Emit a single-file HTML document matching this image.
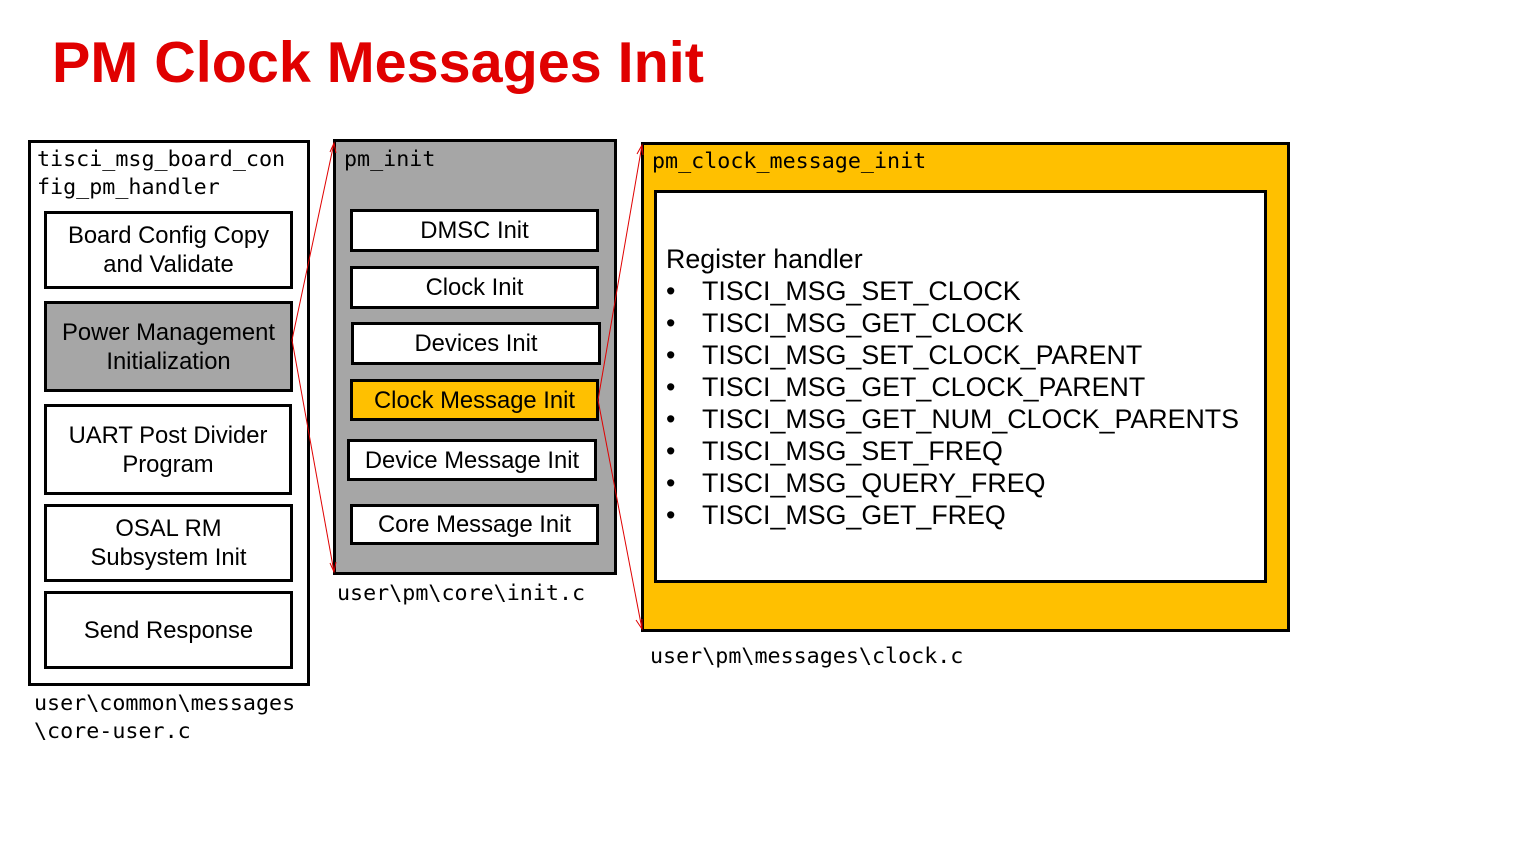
<!DOCTYPE html>
<html><head><style>
body{margin:0;width:1536px;height:864px;background:#fff;position:relative;overflow:hidden;font-family:"Liberation Sans",sans-serif}
.a{position:absolute;box-sizing:border-box}
.b{border:3px solid #000;background:#fff;display:flex;align-items:center;justify-content:center;text-align:center;font-size:23.8px;line-height:29px;color:#000;white-space:nowrap}
.m{position:absolute;font-family:"DejaVu Sans Mono","Liberation Mono",monospace;font-size:21.7px;line-height:28px;color:#000}
</style></head><body>
<div class="a" style="left:52px;top:30px;font-size:57.5px;font-weight:bold;color:#e00000">PM Clock Messages Init</div>

<div class="a" style="left:28px;top:140px;width:282px;height:546px;border:3px solid #000"></div>
<div class="m" style="left:37px;top:146px">tisci_msg_board_con<br>fig_pm_handler</div>
<div class="a b" style="left:44px;top:211px;width:249px;height:78px">Board Config Copy<br>and Validate</div>
<div class="a b" style="left:44px;top:301px;width:249px;height:91px;background:#a6a6a6">Power Management<br>Initialization</div>
<div class="a b" style="left:44px;top:404px;width:248px;height:91px">UART Post Divider<br>Program</div>
<div class="a b" style="left:44px;top:504px;width:249px;height:78px">OSAL RM<br>Subsystem Init</div>
<div class="a b" style="left:44px;top:591px;width:249px;height:78px">Send Response</div>
<div class="m" style="left:34px;top:690px">user\common\messages<br>\core-user.c</div>

<div class="a" style="left:333px;top:139px;width:284px;height:436px;border:3px solid #000;background:#a6a6a6"></div>
<div class="m" style="left:344px;top:146px">pm_init</div>
<div class="a b" style="left:350px;top:209px;width:249px;height:43px">DMSC Init</div>
<div class="a b" style="left:350px;top:266px;width:249px;height:43px">Clock Init</div>
<div class="a b" style="left:351px;top:322px;width:250px;height:43px">Devices Init</div>
<div class="a b" style="left:350px;top:379px;width:249px;height:42px;background:#ffc000">Clock Message Init</div>
<div class="a b" style="left:347px;top:439px;width:250px;height:42px">Device Message Init</div>
<div class="a b" style="left:350px;top:504px;width:249px;height:41px">Core Message Init</div>
<div class="m" style="left:337px;top:580px">user\pm\core\init.c</div>

<div class="a" style="left:641px;top:142px;width:649px;height:490px;border:3px solid #000;background:#ffc000"></div>
<div class="m" style="left:652px;top:148px">pm_clock_message_init</div>
<div class="a" style="left:654px;top:190px;width:613px;height:393px;border:3px solid #000;background:#fff"></div>
<div class="a" style="left:666px;top:243px;font-size:26.8px;line-height:32px;color:#000;white-space:nowrap">Register handler
<div style="position:relative">
<div><span style="display:inline-block;width:36px">•</span>TISCI_MSG_SET_CLOCK</div>
<div><span style="display:inline-block;width:36px">•</span>TISCI_MSG_GET_CLOCK</div>
<div><span style="display:inline-block;width:36px">•</span>TISCI_MSG_SET_CLOCK_PARENT</div>
<div><span style="display:inline-block;width:36px">•</span>TISCI_MSG_GET_CLOCK_PARENT</div>
<div><span style="display:inline-block;width:36px">•</span>TISCI_MSG_GET_NUM_CLOCK_PARENTS</div>
<div><span style="display:inline-block;width:36px">•</span>TISCI_MSG_SET_FREQ</div>
<div><span style="display:inline-block;width:36px">•</span>TISCI_MSG_QUERY_FREQ</div>
<div><span style="display:inline-block;width:36px">•</span>TISCI_MSG_GET_FREQ</div>
</div></div>
<div class="m" style="left:650px;top:643px">user\pm\messages\clock.c</div>

<svg class="a" style="left:0;top:0" width="1536" height="864">
<g stroke="#e00000" stroke-width="1" fill="none">
<line x1="292" y1="340" x2="334" y2="143"/>
<line x1="292" y1="340" x2="334" y2="572"/>
<line x1="598" y1="400" x2="642" y2="145"/>
<line x1="598" y1="400" x2="642" y2="629"/>
<polyline points="330,152 334,143 336,153"/>
<polyline points="330,563 334,572 336,562"/>
<polyline points="637,154 642,145 643,155"/>
<polyline points="636,620 642,629 642,619"/>
</g></svg>
</body></html>
